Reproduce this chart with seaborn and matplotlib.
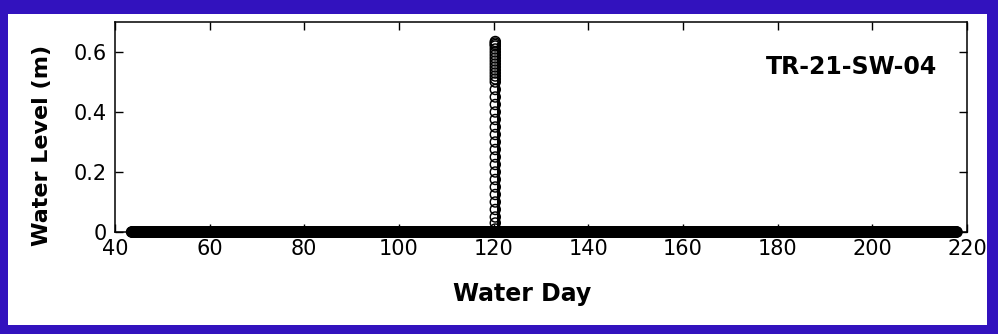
import numpy as np
import pandas as pd
import matplotlib.pyplot as plt
from matplotlib.patches import Rectangle
import seaborn as sns

# Logger record (water day); level sits at zero outside the event
record_start = 43.5
record_end = 218.0
record_step = 0.1
baseline_level = 0.0

# Event around water day 120.5: rising limb (points) then falling limb
rise_day = 120.35
rise_levels = [0.01, 0.03, 0.05, 0.075, 0.10, 0.125, 0.15, 0.175, 0.20, 0.225,
               0.25, 0.275, 0.30, 0.325, 0.35, 0.375, 0.40, 0.425, 0.45, 0.475,
               0.50, 0.51, 0.52, 0.53, 0.54, 0.55, 0.56, 0.57, 0.58, 0.59,
               0.60, 0.61, 0.62, 0.625, 0.63, 0.635]
fall_day = 121.0
fall_levels = [0.63, 0.0]

x_ticks = [40, 60, 80, 100, 120, 140, 160, 180, 200, 220]
y_ticks = [0, 0.2, 0.4, 0.6]
y_ticklabels = ["0", "0.2", "0.4", "0.6"]
station = "TR-21-SW-04"

# Build the series
base_days = np.arange(record_start, record_end, record_step)
points = pd.concat([
    pd.DataFrame({"day": base_days, "level": baseline_level}),
    pd.DataFrame({"day": rise_day, "level": rise_levels}),
], ignore_index=True)
fall = pd.DataFrame({"day": fall_day, "level": fall_levels})

sns.set_style("ticks")
plt.rcParams["font.family"] = ["DejaVu Sans"]
plt.rcParams["text.color"] = "black"
plt.rcParams["axes.labelcolor"] = "black"
plt.rcParams["xtick.direction"] = "in"
plt.rcParams["ytick.direction"] = "in"

fig = plt.figure(figsize=(9.98, 3.34), dpi=100, facecolor="#3212BE")
fig.patches.append(Rectangle((8 / 998, 9 / 334), 979 / 998, 311 / 334,
                             transform=fig.transFigure, facecolor="white",
                             edgecolor="none", zorder=-1))
ax = fig.add_axes([0.1152, 0.3054, 0.8537, 0.6287])

sns.scatterplot(data=points, x="day", y="level", ax=ax, marker="o", s=52,
                facecolors="none", edgecolor="black", linewidth=1.05,
                clip_on=False)
sns.lineplot(data=fall, x="day", y="level", ax=ax, sort=False, estimator=None,
             color="black", linewidth=2.2)

ax.set_xlim(40, 220)
ax.set_ylim(0, 0.7)
ax.set_xticks(x_ticks)
ax.set_yticks(y_ticks)
ax.set_yticklabels(y_ticklabels)
ax.tick_params(axis="both", which="both", top=True, right=True, length=5.8,
               width=1.0, labelsize=15, color="black", labelcolor="black")
ax.tick_params(axis="x", pad=5)
ax.tick_params(axis="y", pad=6)
for sp in ax.spines.values():
    sp.set_visible(True)
    sp.set_linewidth(1.1)
    sp.set_color("black")

ax.set_xlabel("Water Day", fontsize=17, fontweight="bold")
ax.set_ylabel("Water Level (m)", fontsize=16, fontweight="bold")
ax.xaxis.set_label_coords(0.478, -0.24)
ax.yaxis.set_label_coords(-0.074, 0.41)

ax.text(0.965, 0.786, station, transform=ax.transAxes, ha="right",
        va="center", fontsize=17, fontweight="bold")

fig.savefig("out.png", dpi=100, facecolor=fig.get_facecolor())
